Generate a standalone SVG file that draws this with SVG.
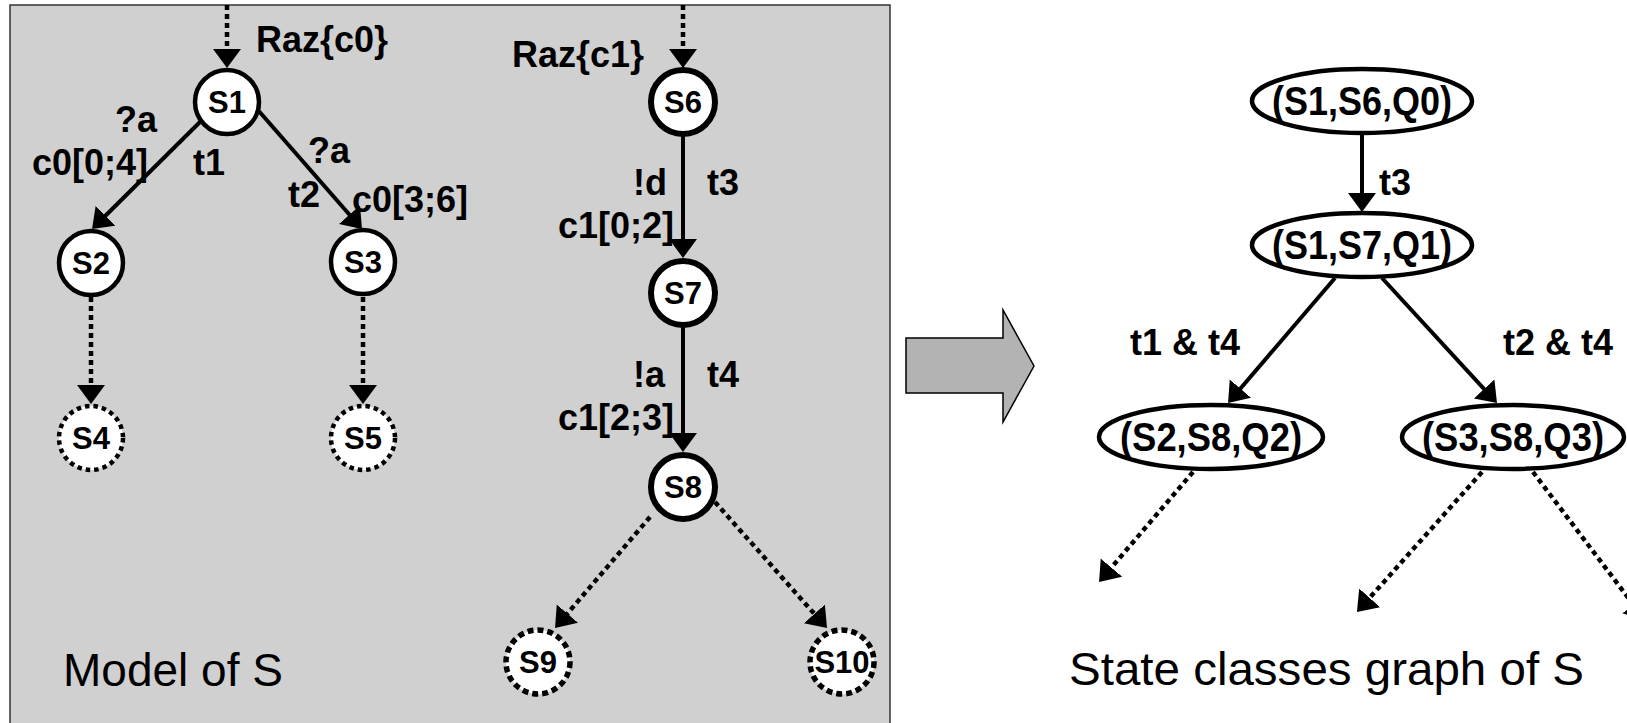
<svg xmlns="http://www.w3.org/2000/svg" width="1627" height="723" viewBox="0 0 1627 723">
<style>
text{font-family:"Liberation Sans",Arial,sans-serif;fill:#000}
.lbl{font-size:36px;font-weight:bold}
.nl{font-size:31px;font-weight:bold;text-anchor:middle}
.el{font-size:40px;font-weight:bold;text-anchor:middle}
.cap{font-size:46px}
.st{fill:#fff;stroke:#000;stroke-width:4.5}
.st2{fill:#fff;stroke:#000;stroke-width:6}
.dt{fill:#fff;stroke:#000;stroke-width:4.5;stroke-dasharray:4.5 4}
.dt2{fill:#fff;stroke:#000;stroke-width:5.5;stroke-dasharray:6 4}
.ell{fill:#fff;stroke:#000;stroke-width:4.5}
.sl{stroke:#000;stroke-width:4;fill:none;marker-end:url(#ah)}
.dl{stroke:#000;stroke-width:4.5;fill:none;stroke-dasharray:5 4;marker-end:url(#ah)}
</style>
<defs>
<marker id="ah" markerUnits="userSpaceOnUse" markerWidth="21" markerHeight="30" refX="14" refY="14" orient="auto">
<path d="M0,0 L19,14 L0,28 Z" fill="#000"/>
</marker>
</defs>
<rect x="10" y="5" width="880" height="730" fill="#d0d0d0" stroke="#333" stroke-width="1.5"/>
<polygon points="906,338 1003,338 1003,310 1034,366 1003,422 1003,393 906,393" fill="#b3b3b3" stroke="#000" stroke-width="1.5"/>
<g id="connectors">
<line class="dl" x1="227" y1="5" x2="227" y2="63"/>
<line class="dl" x1="683" y1="5" x2="683" y2="63"/>
<line class="sl" x1="200" y1="122" x2="95.6" y2="225.5"/>
<line class="sl" x1="250" y1="101" x2="358.7" y2="225.2"/>
<line class="sl" x1="683" y1="136" x2="683" y2="253"/>
<line class="sl" x1="683" y1="327" x2="683" y2="447"/>
<line class="dl" x1="91" y1="297" x2="91" y2="399"/>
<line class="dl" x1="363" y1="297" x2="363" y2="399"/>
<line class="dl" x1="650" y1="517" x2="558.3" y2="624.2"/>
<line class="dl" x1="715" y1="502" x2="823.7" y2="624.3"/>
<line class="sl" x1="1362" y1="134" x2="1362" y2="207"/>
<line class="sl" x1="1335" y1="278" x2="1231.3" y2="399.2"/>
<line class="sl" x1="1382" y1="278" x2="1493.6" y2="399.3"/>
<line class="dl" x1="1193" y1="472" x2="1102.3" y2="578.2"/>
<line class="dl" x1="1482" y1="472" x2="1360.3" y2="608.3"/>
<line class="dl" x1="1533" y1="472" x2="1642" y2="616"/>
</g>
<g id="labels">
<text class="lbl" x="256" y="52">Raz{c0}</text>
<text class="lbl" x="512" y="67">Raz{c1}</text>
<text class="lbl" x="115" y="132">?a</text>
<text class="lbl" x="32" y="175">c0[0;4]</text>
<text class="lbl" x="193" y="175">t1</text>
<text class="lbl" x="308" y="163">?a</text>
<text class="lbl" x="288" y="207">t2</text>
<text class="lbl" x="352" y="212">c0[3;6]</text>
<text class="lbl" x="633" y="195">!d</text>
<text class="lbl" x="707" y="195">t3</text>
<text class="lbl" x="558" y="238">c1[0;2]</text>
<text class="lbl" x="633" y="387">!a</text>
<text class="lbl" x="707" y="387">t4</text>
<text class="lbl" x="558" y="430">c1[2;3]</text>
<text class="lbl" x="1379" y="195">t3</text>
<text class="lbl" x="1130" y="355">t1 &amp; t4</text>
<text class="lbl" x="1503" y="355">t2 &amp; t4</text>
<text class="cap" x="63" y="686">Model of S</text>
<text class="cap" x="1069" y="685" textLength="515" lengthAdjust="spacingAndGlyphs">State classes graph of S</text>
</g>
<g id="S1"><circle class="st" cx="227" cy="102" r="32"/><text class="nl" x="227" y="113">S1</text></g>
<g id="S2"><circle class="st" cx="91" cy="263" r="32"/><text class="nl" x="91" y="274">S2</text></g>
<g id="S3"><circle class="st" cx="363" cy="262" r="32"/><text class="nl" x="363" y="273">S3</text></g>
<g id="S4"><circle class="dt" cx="91" cy="438" r="32"/><text class="nl" x="91" y="449">S4</text></g>
<g id="S5"><circle class="dt" cx="363" cy="438" r="32"/><text class="nl" x="363" y="449">S5</text></g>
<g id="S6"><circle class="st2" cx="683" cy="102" r="32"/><text class="nl" x="683" y="113">S6</text></g>
<g id="S7"><circle class="st2" cx="683" cy="293" r="32"/><text class="nl" x="683" y="304">S7</text></g>
<g id="S8"><circle class="st2" cx="683" cy="487" r="32"/><text class="nl" x="683" y="498">S8</text></g>
<g id="S9"><circle class="dt2" cx="538" cy="662" r="32"/><text class="nl" x="538" y="673">S9</text></g>
<g id="S10"><circle class="dt2" cx="842" cy="662" r="32"/><text class="nl" x="842" y="673">S10</text></g>
<g id="C0"><ellipse class="ell" cx="1362" cy="101" rx="110" ry="32"/><text class="el" x="1362" y="115" textLength="180" lengthAdjust="spacingAndGlyphs">(S1,S6,Q0)</text></g>
<g id="C1"><ellipse class="ell" cx="1362" cy="245" rx="110" ry="32"/><text class="el" x="1362" y="259" textLength="180" lengthAdjust="spacingAndGlyphs">(S1,S7,Q1)</text></g>
<g id="C2"><ellipse class="ell" cx="1211" cy="437" rx="112" ry="32"/><text class="el" x="1211" y="451" textLength="182" lengthAdjust="spacingAndGlyphs">(S2,S8,Q2)</text></g>
<g id="C3"><ellipse class="ell" cx="1513" cy="437" rx="111" ry="32"/><text class="el" x="1513" y="451" textLength="182" lengthAdjust="spacingAndGlyphs">(S3,S8,Q3)</text></g>
</svg>
